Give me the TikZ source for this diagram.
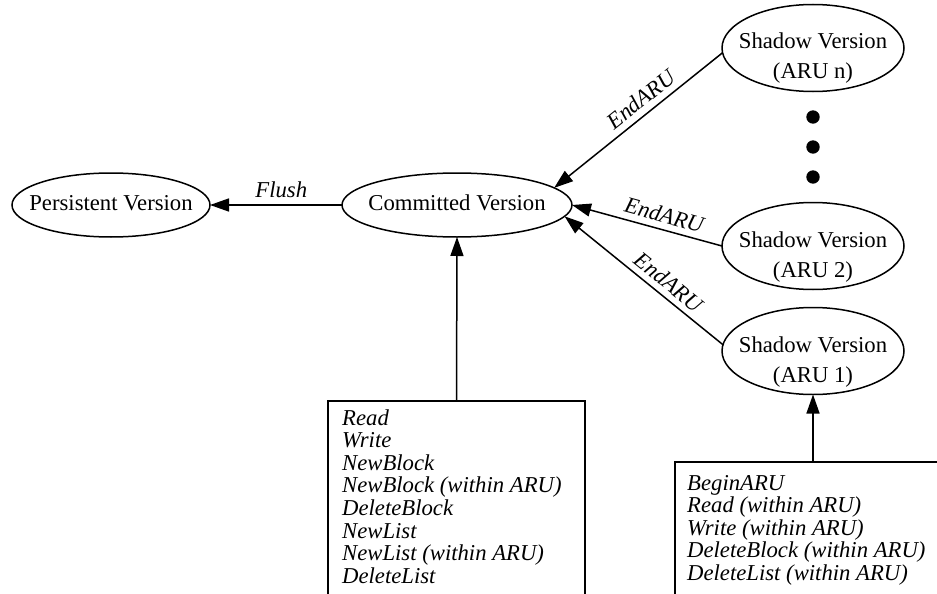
\documentclass[tikz,border=0pt]{standalone}
\usepackage{fontspec}
\setmainfont{Liberation Serif}
\usetikzlibrary{arrows.meta,shapes.geometric}
\newcommand{\ellab}[2]{\makebox[0pt]{\raisebox{#1}[0pt][0pt]{\begin{tabular}[t]{@{}c@{}}#2\end{tabular}}}}
\tikzset{
  ell/.style={draw, ellipse, line width=1.5pt, inner sep=0pt, outer sep=0pt,
    font=\fontsize{22.7}{30}\selectfont},
  boxst/.style={draw, rectangle, line width=1.5pt, inner sep=0pt, outer sep=0pt, anchor=north west},
  boxtext/.style={anchor=base west, inner sep=0pt, font=\itshape\fontsize{22.7}{22.6}\selectfont},
  lab/.style={font=\itshape\fontsize{22.7}{27}\selectfont, inner sep=6pt},
  arr/.style={line width=1.5pt, -{Triangle[length=19pt,width=13pt]}},
  dotst/.style={circle, fill, inner sep=0pt, minimum size=13.4pt}
}
\begin{document}
\begin{tikzpicture}
\useasboundingbox (0,0) rectangle (937pt,-594pt);
\clip (0,0) rectangle (937pt,-594pt);
\begin{scope}[x=1pt,y=1pt]
% ellipses
\node[ell, minimum width=198pt, minimum height=64pt] (per) at (111,-205) {\ellab{-5pt}{Persistent Version}};
\node[ell, minimum width=230pt, minimum height=64pt] (com) at (457,-205) {\ellab{-5pt}{Committed Version}};
\node[ell, minimum width=182pt, minimum height=87pt] (sn) at (813,-48) {\ellab{-1pt}{Shadow Version\\(ARU n)}};
\node[ell, minimum width=182pt, minimum height=87pt] (s2) at (813,-246) {\ellab{-1pt}{Shadow Version\\(ARU 2)}};
\node[ell, minimum width=182pt, minimum height=87pt] (s1) at (813,-351) {\ellab{-1pt}{Shadow Version\\(ARU 1)}};
% dots
\node[dotst] (d1) at (813,-117) {};
\node[dotst] (d2) at (813,-147) {};
\node[dotst] (d3) at (813,-177) {};
% boxes
\node[boxst, minimum width=257pt, minimum height=193.6pt] (lbox) at (328,-401) {};
\node[boxst, minimum width=276pt, minimum height=132.6pt] (rbox) at (675,-462) {};
\node[boxtext] (ltx) at (342,-425) {\begin{tabular}[t]{@{}l@{}}Read\\Write\\NewBlock\\NewBlock (within ARU)\\DeleteBlock\\NewList\\NewList (within ARU)\\DeleteList\end{tabular}};
\node[boxtext] (rtx) at (687,-490) {\begin{tabular}[t]{@{}l@{}}BeginARU\\Read (within ARU)\\Write (within ARU)\\DeleteBlock (within ARU)\\DeleteList (within ARU)\end{tabular}};
% edges
\draw[arr] (com.west) -- node[lab, above, pos=0.46] (flush) {Flush} (per.east);
\draw[arr] (sn.183) -- node[lab, sloped, above, pos=0.43] (e1) {EndARU} (com.10);
\draw[arr] (s2.west) -- node[lab, sloped, above, pos=0.41] (e2) {EndARU} (com.east);
\draw[arr] (s1.176) -- node[lab, sloped, above, pos=0.40] (e3) {EndARU} (com.-6);
\draw[arr] (lbox.north) -- (com.south);
\draw[arr] (rbox.north) -- (s1.south);
\end{scope}
\end{tikzpicture}
\end{document}
